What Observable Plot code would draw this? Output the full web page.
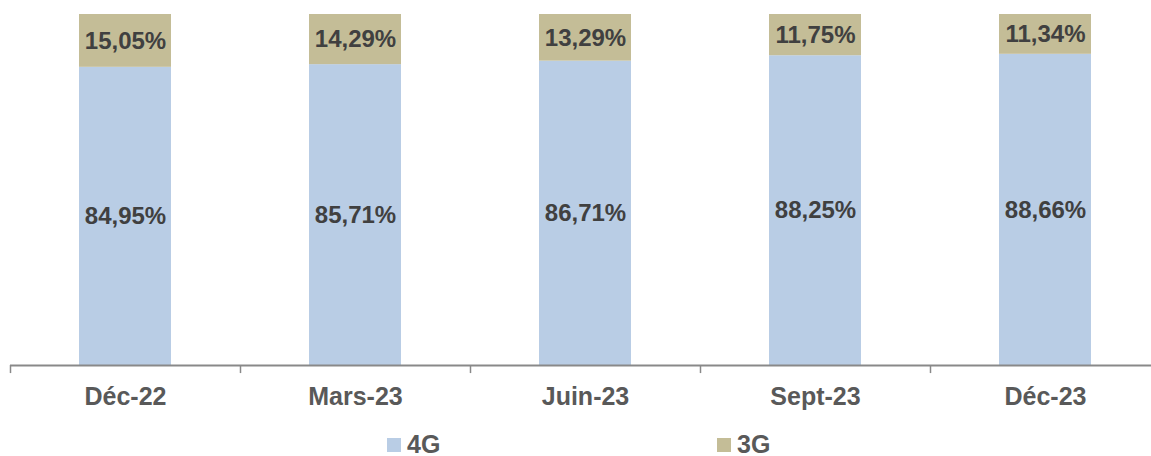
<!DOCTYPE html>
<html>
<head>
<meta charset="utf-8">
<script src="https://cdn.jsdelivr.net/npm/d3@7"></script>
<script src="https://cdn.jsdelivr.net/npm/@observablehq/plot@0.6"></script>
<style>
  body { margin: 0; background: #fff; font-family: "Liberation Sans", Arial, sans-serif; }
  #legend { position: relative; width: 1151px; height: 31px; }
  .item { position: absolute; top: 8px; display: flex; align-items: center; height: 23px;
          font-size: 25px; font-weight: bold; color: #595959; }
  .sw { width: 14px; height: 14px; margin-right: 6px; }
</style>
</head>
<body>
<div id="chart"></div>
<div id="legend"></div>
<script>
const categories = ["Déc-22", "Mars-23", "Juin-23", "Sept-23", "Déc-23"];
const series = ["4G", "3G"];
const values4G = [84.95, 85.71, 86.71, 88.25, 88.66];
const values3G = [15.05, 14.29, 13.29, 11.75, 11.34];
const colors = ["#B9CDE5", "#C4BD97"];

const fmt = v => v.toFixed(2).replace(".", ",") + "%";

const data = [];
categories.forEach((c, i) => {
  data.push({cat: c, series: "4G", value: values4G[i]});
  data.push({cat: c, series: "3G", value: values3G[i]});
});

const chart = Plot.plot({
  width: 1151,
  height: 425,
  marginLeft: 10,
  marginRight: 0,
  marginTop: 14,
  marginBottom: 60,
  style: {fontFamily: "'Liberation Sans', Arial, sans-serif", background: "#fff"},
  x: {domain: categories, range: [10, 1160], paddingInner: 0.6, paddingOuter: 0.3, label: null},
  y: {domain: [0, 100], axis: null},
  color: {domain: series, range: colors},
  marks: [
    Plot.barY(data, Plot.stackY({x: "cat", y: "value", fill: "series", order: series})),
    Plot.text(data, Plot.stackY({x: "cat", y: "value", z: "series", order: series,
      text: d => fmt(d.value), fill: "#404040", fontSize: 24, fontWeight: "bold"})),
    Plot.ruleY([0], {stroke: "#898989", strokeWidth: 2}),
    Plot.ruleX(categories, {x: d => d, y1: 0, y2: -2.3, dx: -115, stroke: "#898989", strokeWidth: 1.5}),
    Plot.axisX({tickSize: 0, tickPadding: 22, fontSize: 25, fontWeight: "bold", fill: "#595959", label: null})
  ]
});
document.getElementById("chart").appendChild(chart);

const legend = document.getElementById("legend");
const legendLeft = [387, 717];
series.forEach((s, i) => {
  const item = document.createElement("div");
  item.className = "item";
  item.style.left = legendLeft[i] + "px";
  const sw = document.createElement("div");
  sw.className = "sw";
  sw.style.background = colors[i];
  const t = document.createElement("span");
  t.textContent = s;
  item.appendChild(sw);
  item.appendChild(t);
  legend.appendChild(item);
});
</script>
</body>
</html>
